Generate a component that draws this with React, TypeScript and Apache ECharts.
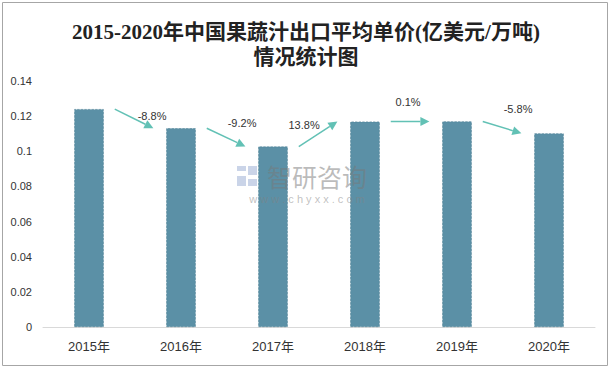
import React, { useEffect, useRef } from "react";
import * as echarts from "echarts";

const categories = ["2015年", "2016年", "2017年", "2018年", "2019年", "2020年"];
const prices = [0.124, 0.1131, 0.1027, 0.1169, 0.117, 0.1102];
const changes = ["-8.8%", "-9.2%", "13.8%", "0.1%", "-5.8%"];
const yTicks = { min: 0, max: 0.14, interval: 0.02 };
const titleLines = ["2015-2020年中国果蔬汁出口平均单价(亿美元/万吨)", "情况统计图"];

const labelNudge = [
  [18, -3],
  [16, -14],
  [-14, -9],
  [-2, -20],
  [16, -18],
];

export default function App() {
  const ref = useRef<HTMLDivElement>(null);
  useEffect(() => {
    if (!ref.current) return;
    const chart = echarts.init(ref.current, null, { renderer: "svg" });
    const arrowData = changes.map((c, i) => [i, prices[i], prices[i + 1], c]);
    const sans = "'Liberation Sans', 'Noto Sans CJK SC', sans-serif";
    const wmFill = "rgba(150,170,210,0.5)";
    chart.setOption({
      animation: false,
      backgroundColor: "#ffffff",
      title: {
        text: titleLines.join("\n"),
        left: "center",
        top: 14,
        textStyle: {
          fontFamily: "'Liberation Serif', 'Noto Sans CJK SC', serif",
          fontSize: 21,
          fontWeight: "bold",
          color: "#222",
          lineHeight: 25,
        },
      },
      grid: { left: 43, right: 17, top: 81, bottom: 42 },
      xAxis: {
        type: "category",
        data: categories,
        axisLine: { lineStyle: { color: "#d9d9d9", width: 1 } },
        axisTick: { show: false },
        axisLabel: { color: "#333", fontSize: 13, fontFamily: sans, margin: 13 },
      },
      yAxis: {
        type: "value",
        min: yTicks.min,
        max: yTicks.max,
        interval: yTicks.interval,
        splitLine: { show: false },
        axisLine: { show: false },
        axisTick: { show: false },
        axisLabel: { color: "#333", fontSize: 11, fontFamily: sans, margin: 11 },
      },
      series: [
        {
          type: "bar",
          data: prices,
          barWidth: "32%",
          itemStyle: {
            color: "#5b90a6",
            borderColor: "#4d7f94",
            borderWidth: 0.6,
            borderType: "dashed",
          },
          z: 2,
        },
        {
          type: "custom",
          coordinateSystem: "cartesian2d",
          data: arrowData,
          encode: { x: 0, y: 1 },
          z: 5,
          renderItem: (params: any, api: any) => {
            const i = api.value(0);
            const v0 = api.value(1);
            const v1 = api.value(2);
            const bw = api.size([1, 0])[0];
            const p0 = api.coord([i, v0]);
            const p1 = api.coord([i + 1, v1]);
            const sx = p0[0] + 0.28 * bw;
            const sy = p0[1];
            const ex = p1[0] - 0.3 * bw;
            const ey = p1[1];
            const dx = ex - sx;
            const dy = ey - sy;
            const len = Math.sqrt(dx * dx + dy * dy);
            const ux = dx / len;
            const uy = dy / len;
            const hl = 9;
            const hw = 4.5;
            const bx = ex - ux * hl;
            const by = ey - uy * hl;
            const nudge = labelNudge[params.dataIndex] || [0, -10];
            const mx = (sx + ex) / 2 + nudge[0];
            const my = (sy + ey) / 2 + nudge[1];
            return {
              type: "group",
              children: [
                {
                  type: "line",
                  shape: { x1: sx, y1: sy, x2: bx, y2: by },
                  style: { stroke: "#62c1b5", lineWidth: 1.5 },
                },
                {
                  type: "polygon",
                  shape: {
                    points: [
                      [ex, ey],
                      [bx - uy * hw, by + ux * hw],
                      [bx + uy * hw, by - ux * hw],
                    ],
                  },
                  style: { fill: "#62c1b5" },
                },
                {
                  type: "text",
                  x: mx,
                  y: my,
                  style: {
                    text: changes[params.dataIndex],
                    fill: "#333",
                    fontSize: 11,
                    fontFamily: sans,
                    align: "center",
                    verticalAlign: "middle",
                  },
                },
              ],
            };
          },
        },
      ],
      graphic: [
        {
          type: "rect",
          shape: { x: 2.5, y: 2.5, width: 605, height: 363 },
          style: { fill: "none", stroke: "#a6a6a6", lineWidth: 1 },
          silent: true,
          z: 0,
        },
        { type: "rect", z: 100, silent: true, shape: { x: 237, y: 166, width: 9, height: 5 }, style: { fill: wmFill } },
        { type: "rect", z: 100, silent: true, shape: { x: 248, y: 166, width: 9, height: 9 }, style: { fill: wmFill } },
        { type: "rect", z: 100, silent: true, shape: { x: 237, y: 176, width: 9, height: 10 }, style: { fill: wmFill } },
        { type: "rect", z: 100, silent: true, shape: { x: 248, y: 179, width: 9, height: 7 }, style: { fill: wmFill } },
        {
          type: "text",
          z: 100,
          silent: true,
          x: 267,
          y: 188,
          style: {
            text: "智研咨询",
            fill: "rgba(120,120,120,0.5)",
            fontSize: 25,
            fontFamily: "'Noto Sans CJK SC', sans-serif",
            verticalAlign: "bottom",
          },
        },
        {
          type: "text",
          z: 100,
          silent: true,
          x: 307,
          y: 193,
          style: {
            text: "w w w . c h y x x . c o m",
            fill: "rgba(130,130,130,0.5)",
            fontSize: 11,
            fontFamily: sans,
            align: "center",
            verticalAlign: "top",
          },
        },
      ],
    });
    return () => chart.dispose();
  }, []);
  return (
    <div
      ref={ref}
      style={{ position: "absolute", left: 0, top: 0, width: 612, height: 369 }}
    />
  );
}
